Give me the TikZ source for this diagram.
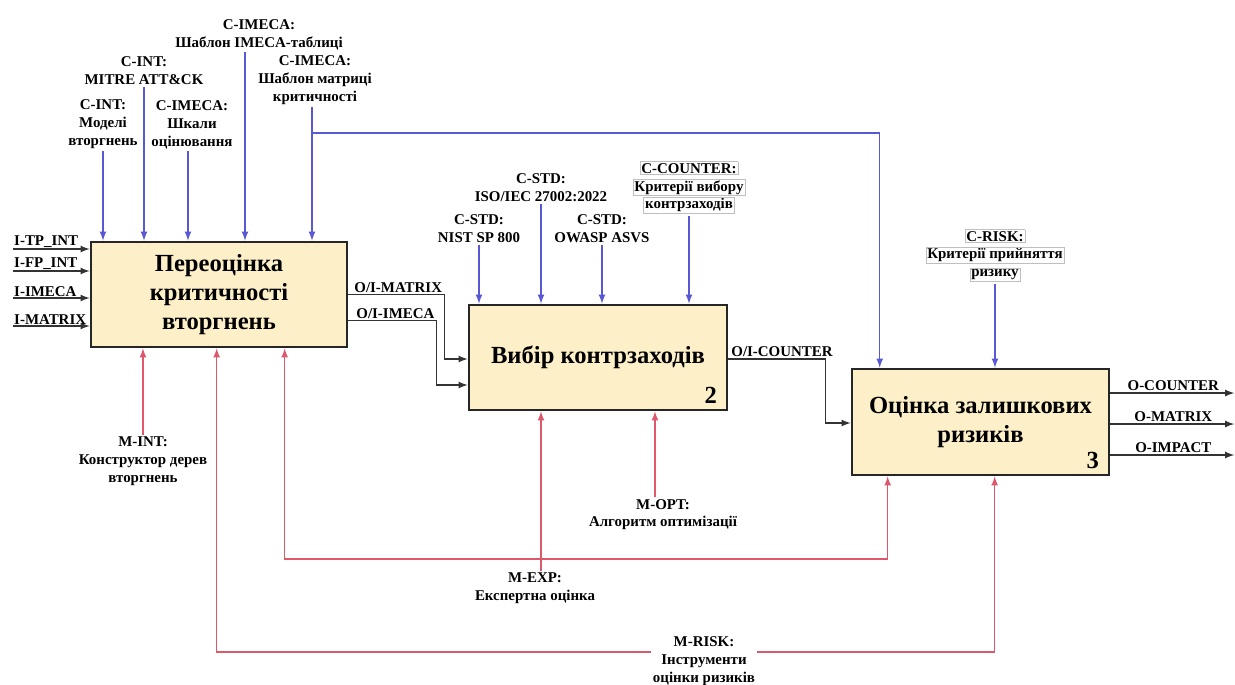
\documentclass[tikz,border=0pt]{standalone}
\usepackage{fontspec}
\setmainfont{Liberation Serif}
\usepackage{tikz}
\usetikzlibrary{arrows, positioning}

\definecolor{funcfill}{RGB}{253,240,201}
\definecolor{ctrlblue}{RGB}{88,88,212}
\definecolor{mechred}{RGB}{222,88,108}

\newcommand{\boxedline}[1]{{\setlength{\fboxsep}{0.6pt}\setlength{\fboxrule}{0.4pt}\fcolorbox{black!25}{white}{#1}}}

\tikzset{
	func/.style={draw=black!85, line width=1.5pt, fill=funcfill, align=center, font=\fontsize{14}{16.5}\selectfont\bfseries},
	boxnum/.style={font=\fontsize{14}{16.5}\selectfont\bfseries, inner sep=0pt},
	lbl/.style={font=\fontsize{8.5}{10.2}\selectfont\bfseries, align=center, inner sep=1pt},
	ctrl/.style={draw=ctrlblue, line width=0.8pt, ->, >=latex},
	mech/.style={draw=mechred, line width=0.8pt, ->, >=latex},
	flow/.style={draw=black!80, line width=0.8pt, ->, >=latex}
}

\begin{document}
\begin{tikzpicture}[x=0.02cm, y=-0.02cm]
			
			\useasboundingbox (0,0) rectangle (1235,684);
			
			% function boxes
			\node[func, minimum width=5.12cm, minimum height=2.1cm] (b1) at (219,294.5) {Переоцінка\\критичності\\вторгнень};
			\node[func, minimum width=5.16cm, minimum height=2.1cm] (b2) at (598,357.5) {Вибір контрзаходів};
			\node[func, minimum width=5.14cm, minimum height=2.12cm] (b3) at (980.5,422) {Оцінка залишкових\\ризиків};
			\node[boxnum, anchor=south east, xshift=-0.22cm, yshift=0.14cm] (n2) at (b2.south east) {2};
			\node[boxnum, anchor=south east, xshift=-0.22cm, yshift=0.14cm] (n3) at (b3.south east) {3};
			
			% controls of box 1
			\foreach \nm/\x/\y/\dx/\txt in {
				c1a/103/151/0/{C-INT:\\Моделі\\вторгнень},
				c1b/144/87/0/{C-INT:\\MITRE ATT\&CK},
				c1c/192/151/-0.08/{C-IMECA:\\Шкали\\оцінювання},
				c1d/259/52/-0.28/{C-IMECA:\\Шаблон IMECA-таблиці},
				c1e/315/107/-0.06/{C-IMECA:\\Шаблон матриці\\критичності}}
			{
				\node[lbl, anchor=south] (\nm) at (\x,\y) {\txt};
				\draw[ctrl] ([xshift=\dx cm]\nm.south) -- ([xshift=\dx cm]\nm.south |- b1.north);
			}
			\coordinate (jctl) at (312,133);
			\draw[ctrl] (jctl) -| ([xshift=0.58cm]b3.north west);
			
			% controls of box 2
			\foreach \nm/\x/\y/\txt in {
				c2a/479/245/{C-STD:\\NIST SP 800},
				c2b/541/204/{C-STD:\\ISO/IEC 27002:2022},
				c2c/602/245/{C-STD:\\OWASP ASVS},
				c2d/689/216/{\boxedline{C-COUNTER:}\\\boxedline{Критерії вибору}\\\boxedline{контрзаходів}}}
			{
				\node[lbl, anchor=south] (\nm) at (\x,\y) {\txt};
				\draw[ctrl] (\nm.south) -- (\nm.south |- b2.north);
			}
			
			% control of box 3
			\node[lbl, anchor=south] (c3a) at (995,284) {\boxedline{C-RISK:}\\\boxedline{Критерії прийняття}\\\boxedline{ризику}};
			\draw[ctrl] (c3a.south) -- (c3a.south |- b3.north);
			
			% inputs
			\foreach \nm/\y/\txt in {i1/249/{I-TP\_INT}, i2/271/{I-FP\_INT}, i3/298/{I-IMECA}, i4/326/{I-MATRIX}}
			{
				\coordinate (\nm) at (13,\y);
				\node[lbl, anchor=south west, inner sep=0.5pt] (t\nm) at (\nm) {\txt};
				\draw[flow] (\nm) -- (\nm -| b1.west);
			}
			
			% flows between boxes
			\draw[flow] (b1.east) -- ++(96,0) |- ([yshift=-0.03cm]b2.west);
			\node[lbl, anchor=south west] (f1) at ([xshift=0.08cm]b1.east) {O/I-MATRIX};
			\draw[flow] ([yshift=-0.52cm]b1.east) -- ++(88,0) |- ([yshift=-0.55cm]b2.west);
			\node[lbl, anchor=south west] (f2) at ([xshift=0.12cm, yshift=-0.52cm]b1.east) {O/I-IMECA};
			\draw[flow] ([yshift=-0.03cm]b2.east) -- ++(97,0) |- ([yshift=-0.02cm]b3.west);
			\node[lbl, anchor=south west] (f3) at ([xshift=0.02cm, yshift=-0.03cm]b2.east) {O/I-COUNTER};
			
			% outputs
			\foreach \nm/\dy/\txt in {o1/0.58/{O-COUNTER}, o2/-0.04/{O-MATRIX}, o3/-0.66/{O-IMPACT}}
			{
				\coordinate (\nm) at ([yshift=\dy cm]b3.east);
				\draw[flow] (\nm) -- ++(124,0);
				\node[lbl, anchor=south] (t\nm) at ([xshift=1.26cm]\nm) {\txt};
			}
			
			% mechanisms
			\node[lbl, anchor=north] (mint) at (143,435) {M-INT:\\Конструктор дерев\\вторгнень};
			\draw[mech] (mint.north) -- (mint.north |- b1.south);
			
			\node[lbl, anchor=north] (mopt) at (663,497) {M-OPT:\\Алгоритм оптимізації};
			\draw[mech] ([xshift=-0.16cm]mopt.north) -- ([xshift=-0.16cm]mopt.north |- b2.south);
			
			\node[lbl, anchor=north] (mexp) at (535,571) {M-EXP:\\Експертна оцінка};
			\draw[mech] ([xshift=0.12cm]mexp.north) -- ([xshift=0.12cm]mexp.north |- b2.south);
			\coordinate (jexp) at (541,559);
			\draw[mech] (jexp) -| ([xshift=3.9cm]b1.south west);
			\draw[mech] (jexp) -| ([xshift=0.74cm]b3.south west);
			
			\node[lbl, inner xsep=1pt] (mrisk) at (704,661) {M-RISK:\\Інструменти\\оцінки ризиків};
			\draw[mech] ([yshift=0.18cm]mrisk.west) -| ([xshift=2.54cm]b1.south west);
			\draw[mech] ([yshift=0.18cm]mrisk.east) -| ([xshift=2.88cm]b3.south west);
			
\end{tikzpicture}
\end{document}
